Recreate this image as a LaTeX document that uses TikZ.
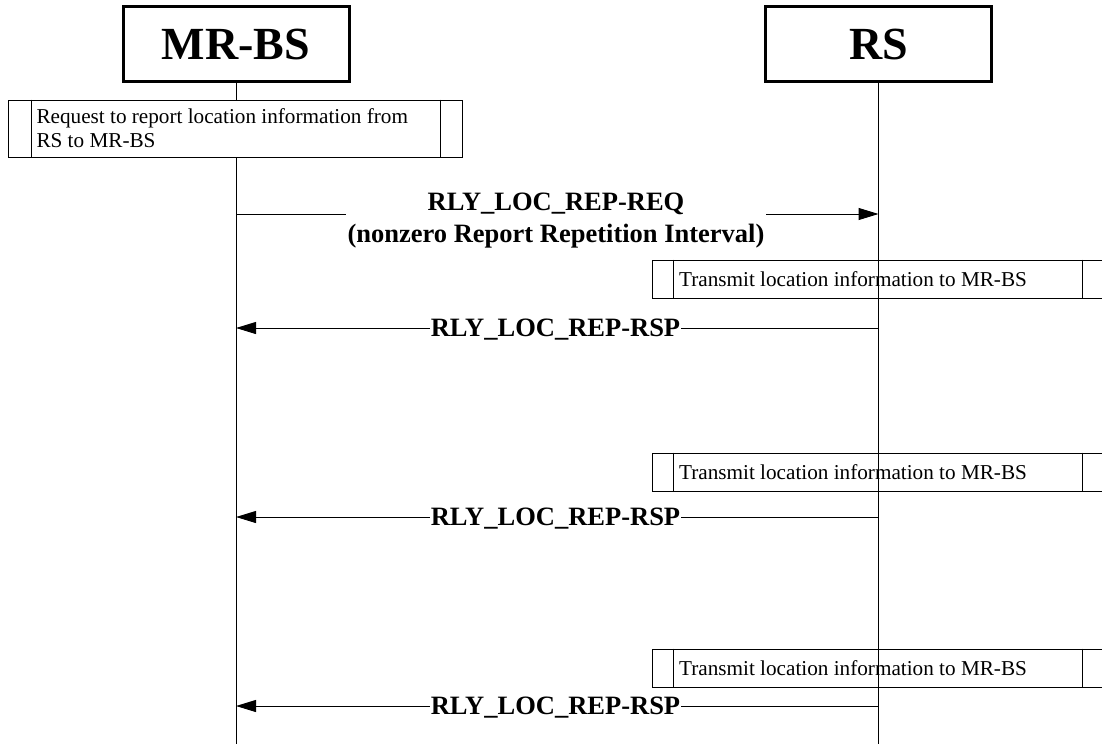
\documentclass[tikz,border=0pt]{standalone}
\usepackage{fontspec}
\setmainfont{Liberation Serif}
\usetikzlibrary{arrows.meta}
\tikzset{
  actor/.style={draw, line width=3pt, minimum width=226pt, minimum height=75pt, inner sep=0pt,
    font=\fontsize{46}{50}\selectfont\bfseries},
  life/.style={line width=1pt},
  msg/.style={line width=1pt, -{Triangle[length=20pt,width=12pt]}},
  msglbl/.style={fill=white, inner xsep=1.5pt, inner ysep=1pt,
    font=\fontsize{26.5}{31.5}\selectfont\bfseries, align=center},
  notebox/.style={draw, line width=0.8pt, inner sep=0pt},
  notesep/.style={line width=0.8pt},
  notetxt/.style={inner sep=0pt, font=\fontsize{21.2}{24}\selectfont, align=left, anchor=west},
}
\begin{document}
\begin{tikzpicture}[x=1pt,y=-1pt]
\useasboundingbox (0,0) rectangle (1102,744);
\clip (0,0) rectangle (1102,744);
\fill[white] (0,0) rectangle (1102,744);

% actors
\node[actor] (mrbs) at (236,44) {MR-BS};
\node[actor] (rs) at (878.5,44) {RS};
\coordinate (mrbsEnd) at (236,744);
\coordinate (rsEnd) at (878.5,744);
\draw[life] (mrbs.south) -- (mrbsEnd);
\draw[life] (rs.south) -- (rsEnd);

% note on MR-BS
\node[notebox, fill=white, minimum width=454pt, minimum height=57pt] (n1) at (235,128.5) {};
\draw[notesep] ([xshift=24pt]n1.north west) -- ([xshift=24pt]n1.south west);
\draw[notesep] ([xshift=-22pt]n1.north east) -- ([xshift=-22pt]n1.south east);
\node[notetxt] (n1t) at ([xshift=28.7pt]n1.west) {Request to report location information from\\RS to MR-BS};

% request
\coordinate (m0) at (236,214);
\coordinate (r0) at (878.5,214);
\draw[msg] (m0) -- (r0);
\node[msglbl] (req) at (556,220.5) {RLY\_LOC\_REP-REQ\\(nonzero Report Repetition Interval)};

% transmit notes and responses
\foreach \i/\ty/\ay in {1/279/328, 2/472/517, 3/668/706}{
  \node[notebox, minimum width=453pt, minimum height=38pt] (t\i) at (878.5,\ty) {};
  \draw[notesep] ([xshift=22pt]t\i.north west) -- ([xshift=22pt]t\i.south west);
  \draw[notesep] ([xshift=431pt]t\i.north west) -- ([xshift=431pt]t\i.south west);
  \node[notetxt] (t\i t) at ([xshift=27.3pt]t\i.west) {Transmit location information to MR-BS};
  \coordinate (r\i) at (878.5,\ay);
  \coordinate (m\i) at (236,\ay);
  \draw[msg] (r\i) -- (m\i);
  \node[msglbl, inner xsep=1pt] (rsp\i) at (555.5,\ay+2) {RLY\_LOC\_REP-RSP};
}
\end{tikzpicture}
\end{document}
